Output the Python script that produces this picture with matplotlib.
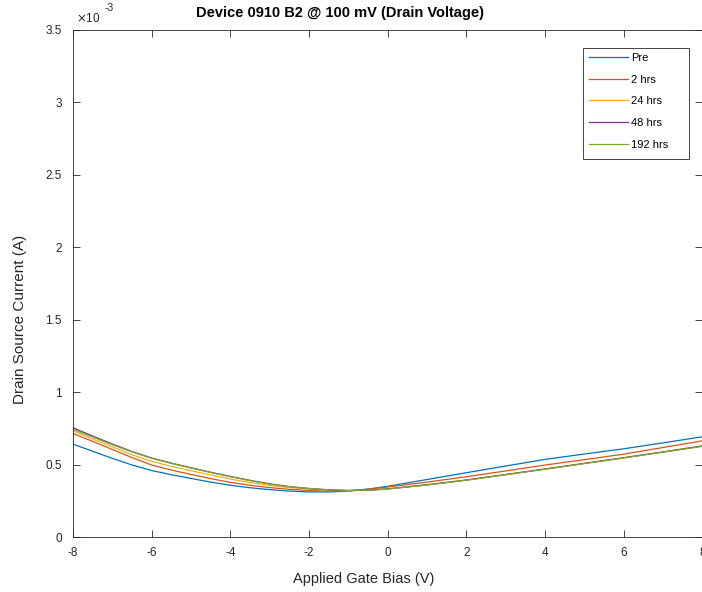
import numpy as np
import matplotlib
matplotlib.use("Agg")
import matplotlib.pyplot as plt
from matplotlib.patches import Rectangle
from matplotlib.ticker import FuncFormatter

plt.rcParams['font.family'] = ['Liberation Sans', 'DejaVu Sans']
plt.rcParams['axes.unicode_minus'] = False

# gate bias sweep (V); finer steps on the negative side where the curves bend
gate_bias = [-8, -7.5, -7, -6.5, -6, -5.5, -5, -4.5, -4, -3.5, -3, -2.5, -2, -1.5, -1, -0.5,
             0, 1, 2, 3, 4, 5, 6, 7, 8]
# drain-source current in units of 1e-3 A
pre    = [0.641, 0.592, 0.543, 0.497, 0.459, 0.430, 0.404, 0.379, 0.357, 0.340, 0.327, 0.317, 0.311, 0.311, 0.317, 0.331,
          0.350, 0.397, 0.444, 0.490, 0.536, 0.573, 0.609, 0.650, 0.692]
hrs2   = [0.715, 0.660, 0.604, 0.548, 0.497, 0.462, 0.432, 0.403, 0.377, 0.357, 0.341, 0.329, 0.321, 0.318, 0.320, 0.330,
          0.345, 0.379, 0.416, 0.456, 0.497, 0.534, 0.572, 0.618, 0.664]
hrs24  = [0.733, 0.677, 0.622, 0.568, 0.522, 0.488, 0.457, 0.428, 0.400, 0.376, 0.356, 0.341, 0.330, 0.323, 0.320, 0.323,
          0.332, 0.362, 0.394, 0.432, 0.470, 0.509, 0.548, 0.588, 0.630]
hrs48  = [0.754, 0.697, 0.642, 0.590, 0.545, 0.510, 0.478, 0.447, 0.418, 0.391, 0.367, 0.348, 0.335, 0.326, 0.321, 0.323,
          0.332, 0.360, 0.393, 0.431, 0.469, 0.508, 0.547, 0.587, 0.628]
hrs192 = [0.743, 0.690, 0.637, 0.587, 0.543, 0.508, 0.476, 0.445, 0.416, 0.389, 0.365, 0.347, 0.334, 0.325, 0.321, 0.323,
          0.331, 0.359, 0.392, 0.430, 0.468, 0.507, 0.546, 0.586, 0.626]
labels = ['Pre', '2 hrs', '24 hrs', '48 hrs', '192 hrs']
colors = ['#0072BD', '#D95319', '#EDB120', '#7E2F8E', '#77AC30']
scale = 1e-3
axcol = '#262626'

W, H = 702, 592
fig = plt.figure(figsize=(W / 100, H / 100), dpi=100)
ax = fig.add_axes([73/W, 55/H, 629.5/W, 507/H])

x = np.array(gate_bias)
for series, lab, c in zip([pre, hrs2, hrs24, hrs48, hrs192], labels, colors):
    ax.plot(x, np.array(series) * scale, color=c, lw=0.9, label=lab)

ax.set_xlim(-8, 8)
ax.set_ylim(0, 3.5e-3)
ax.set_xticks(np.arange(-8, 9, 2))
ax.set_yticks(np.arange(0, 3.6e-3, 0.5e-3))
ax.yaxis.set_major_formatter(FuncFormatter(lambda v, p: ('%g' % round(v / scale, 2))))
ax.tick_params(direction='in', length=5, width=0.6, top=True, right=True,
               labelsize=8.5, color=axcol, labelcolor=axcol)
ax.tick_params(axis='x', pad=7)
ax.tick_params(axis='y', pad=8)
for s in ax.spines.values():
    s.set_linewidth(0.6)
    s.set_color(axcol)

fig.text(364/W, 1 - 579/H, 'Applied Gate Bias (V)', fontsize=10.5,
         ha='center', va='center', color=axcol)
fig.text(20/W, 1 - 319/H, 'Drain Source Current (A)', fontsize=11,
         ha='center', va='center', rotation=90, color=axcol)
fig.text(340/W, 1 - 13/H, 'Device 0910 B2 @ 100 mV (Drain Voltage)',
         ha='center', va='center', fontsize=10.5, fontweight='bold')
fig.text(76/W, 1 - 19/H, r'$\times$10', fontsize=8.5, ha='left', va='center', color=axcol)
fig.text(105/W, 1 - 8/H, '-3', fontsize=7.5, ha='left', va='center', color=axcol)

# legend box drawn separately so it keeps the wide right margin
fig.patches.append(Rectangle((583/W, 1 - 159/H), 106/W, 111/H, transform=fig.transFigure,
                             facecolor='white', edgecolor=axcol, lw=0.6, zorder=3))
leg = fig.legend(*ax.get_legend_handles_labels(), loc='upper left',
                 bbox_to_anchor=(589/W, 1 - 53/H), fontsize=8, frameon=False,
                 handlelength=3.5, labelspacing=1.05, borderpad=0, borderaxespad=0,
                 handletextpad=0.3)
leg.set_zorder(4)

fig.savefig('out.png', dpi=100)
